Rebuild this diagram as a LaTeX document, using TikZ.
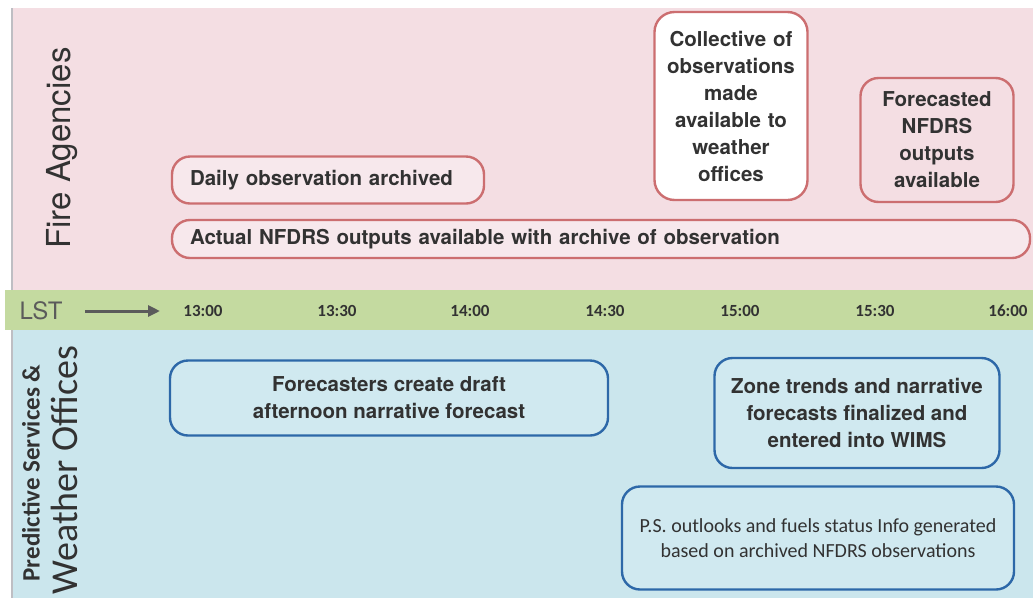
\documentclass[tikz,border=0pt]{standalone}
\usepackage{fontspec}
\setmainfont{TeX Gyre Heros}
\newfontfamily\ars{TeX Gyre Heros}
\newfontfamily\carl{Carlito}
\usetikzlibrary{arrows.meta}
\definecolor{pinkbg}{RGB}{244,222,227}
\definecolor{pinkfill}{RGB}{247,232,236}
\definecolor{greenbg}{RGB}{196,218,160}
\definecolor{bluebg}{RGB}{203,230,237}
\definecolor{bluefill}{RGB}{208,233,240}
\definecolor{redc}{RGB}{204,110,112}
\definecolor{bluec}{RGB}{45,104,168}
\definecolor{txtc}{RGB}{50,50,50}
\definecolor{edgec}{RGB}{190,190,195}
\begin{document}
\begin{tikzpicture}[x=1pt,y=-1pt,
  txt/.style={text=txtc, font=\ars\bfseries\fontsize{20.5}{27}\selectfont, align=center},
  redbox/.style={draw=redc, line width=2.4pt, rounded corners=18pt, txt, inner sep=0pt},
  bluebox/.style={draw=bluec, line width=2.4pt, rounded corners=18pt, fill=bluefill, txt, inner sep=0pt},
  tick/.style={text=txtc, font=\carl\bfseries\fontsize{17}{20}\selectfont, inner sep=0pt},
  lane/.style={text=txtc, rotate=90, inner sep=0pt}
]
\useasboundingbox (0,0) rectangle (1033,598);
\fill[white] (0,0) rectangle (1033,598);
% lanes
\fill[pinkbg] (12,8) rectangle (1033,290);
\fill[greenbg] (5,290) rectangle (1033,330);
\fill[bluebg] (12,330) rectangle (1033,598);
\draw[edgec, line width=1.2pt] (12,8) -- (12,290);
\draw[edgec, line width=1.2pt] (12,330) -- (12,598);

% lane labels
\node[lane, font=\ars\fontsize{33}{33}\selectfont] (fire) at (62,148) {Fire Agencies};
\node[lane, font=\carl\bfseries\fontsize{25}{25}\selectfont] (pred) at (31,473) {Predictive Services \&};
\node[lane, font=\carl\fontsize{38}{38}\selectfont] (wx) at (64,470) {Weather Offices};

% time axis
\node[text=txtc!80, font=\ars\fontsize{24}{24}\selectfont, inner sep=0pt] (lst) at (41,311) {LST};
\coordinate (as) at (85,311);
\coordinate (ae) at (160,311);
\draw[txtc!80, line width=3pt, -{Triangle[length=12pt,width=11pt]}] (as) -- (ae);
\node[tick] (t1) at (203,311) {13:00};
\node[tick] (t2) at (337,311) {13:30};
\node[tick] (t3) at (470,311) {14:00};
\node[tick] (t4) at (605,311) {14:30};
\node[tick] (t5) at (740,311) {15:00};
\node[tick] (t6) at (875,311) {15:30};
\node[tick] (t7) at (1008,311) {16:00};

% fire agency boxes
\node[redbox, fill=pinkfill, minimum width=312pt, minimum height=47pt, text width=276pt, align=left] (daily) at (328,180) {Daily observation archived};
\node[redbox, fill=pinkfill, minimum width=858pt, minimum height=38pt, text width=822pt, align=left] (actual) at (601,239) {Actual NFDRS outputs available with archive of observation};
\node[redbox, fill=white, minimum width=153pt, minimum height=188pt, text width=150pt, rounded corners=20pt] (coll) at (731,106) {Collective of\\observations\\made\\available to\\weather\\offices};
\node[redbox, fill=pinkbg, minimum width=153pt, minimum height=124pt, text width=150pt] (fcst) at (937,140) {Forecasted\\NFDRS\\outputs\\available};

% weather office boxes
\node[bluebox, minimum width=438pt, minimum height=75pt] (draft) at (389,398) {Forecasters create draft\\afternoon narrative forecast};
\node[bluebox, minimum width=285pt, minimum height=110pt] (zone) at (857,413) {Zone trends and narrative\\forecasts finalized and\\entered into WIMS};
\node[bluebox, minimum width=392pt, minimum height=103pt, font=\carl\fontsize{20}{25}\selectfont] (ps) at (818,538) {P.S. outlooks and fuels status Info generated\\based on archived NFDRS observations};
\end{tikzpicture}
\end{document}
